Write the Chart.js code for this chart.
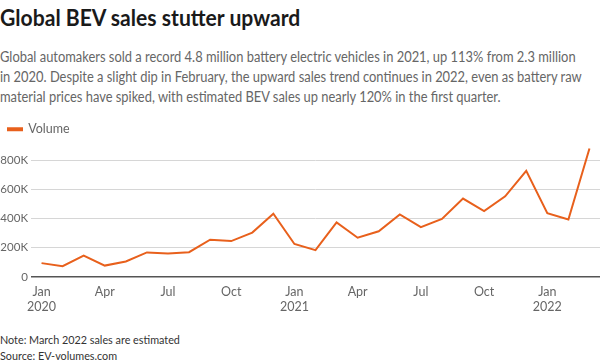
<!DOCTYPE html>
<html>
<head>
<meta charset="utf-8">
<script src="https://cdn.jsdelivr.net/npm/chart.js@4"></script>
<style>
  body { margin: 0; width: 600px; height: 364px; background: #fff; font-family: Lato, sans-serif; position: relative; overflow: hidden; }
  .title { position: absolute; left: 0; top: 4px; font-size: 22px; font-weight: bold; color: #1a1a1a; white-space: nowrap; transform: scaleX(0.96); transform-origin: left top; }
  .sub { position: absolute; left: 0; top: 47px; font-size: 14.5px; line-height: 20px; color: #666; white-space: nowrap; transform: scaleX(0.89); transform-origin: left top; }
  .note { position: absolute; left: 0; top: 332px; font-size: 12px; line-height: 16px; color: #333; white-space: nowrap; transform: scaleX(0.9); transform-origin: left top; }
  #wrap { position: absolute; left: 0; top: 115px; width: 600px; height: 206px; }
</style>
</head>
<body>
<div class="title">Global BEV sales stutter upward</div>
<div class="sub">Global automakers sold a record 4.8 million battery electric vehicles in 2021, up 113% from 2.3 million<br>in 2020. Despite a slight dip in February, the upward sales trend continues in 2022, even as battery raw<br>material prices have spiked, with estimated BEV sales up nearly 120% in the first quarter.</div>
<div id="wrap"><canvas id="grafico"></canvas></div>
<div class="note">Note: March 2022 sales are estimated<br>Source: EV-volumes.com</div>
<script>
const months = ['Jan 2020','Feb 2020','Mar 2020','Apr 2020','May 2020','Jun 2020','Jul 2020','Aug 2020','Sep 2020','Oct 2020','Nov 2020','Dec 2020',
  'Jan 2021','Feb 2021','Mar 2021','Apr 2021','May 2021','Jun 2021','Jul 2021','Aug 2021','Sep 2021','Oct 2021','Nov 2021','Dec 2021',
  'Jan 2022','Feb 2022','Mar 2022'];
const volume = [95000, 74000, 147000, 78000, 106000, 168000, 161000, 170000, 255000, 246000, 304000, 433000,
  226000, 184000, 373000, 269000, 313000, 428000, 341000, 398000, 537000, 451000, 552000, 727000,
  437000, 394000, 879000];
const yTicks = [0, 200000, 400000, 600000, 800000];

const orange = '#e8601c';

const ctx = document.getElementById('grafico').getContext('2d');
const grafico = new Chart(ctx, {
  type: 'line',
  data: {
    labels: months,
    datasets: [{
      label: 'Volume',
      data: volume,
      borderColor: orange,
      backgroundColor: orange,
      borderWidth: 2,
      pointRadius: 0,
      tension: 0,
      fill: false
    }]
  },
  options: {
    responsive: true,
    maintainAspectRatio: false,
    animation: false,
    layout: { padding: { left: 0, right: 0, top: 0, bottom: 0 } },
    plugins: {
      legend: {
        display: true,
        position: 'top',
        align: 'start',
        labels: {
          boxWidth: 14,
          boxHeight: 2,
          color: '#666',
          padding: 8,
          font: { family: 'Lato', size: 12.5 }
        }
      },
      tooltip: { enabled: false }
    },
    scales: {
      x: {
        offset: true,
        grid: { display: false, drawTicks: false },
        border: { display: false },
        ticks: {
          autoSkip: false,
          maxRotation: 0,
          padding: 7,
          color: '#666',
          font: { family: 'Lato', size: 12.5 },
          callback: function (v, i) {
            const [m, y] = months[i].split(' ');
            if (m === 'Jan') return [m, y];
            if (m === 'Apr' || m === 'Jul' || m === 'Oct') return m;
            return null;
          }
        }
      },
      y: {
        min: 0,
        max: 900000,
        afterBuildTicks: function (axis) {
          axis.ticks = yTicks.map(v => ({ value: v }));
        },
        afterFit: function (axis) {
          axis.width = 31;
        },
        grid: {
          drawTicks: false,
          color: c => c.tick && c.tick.value === 0 ? '#555' : '#d6d6d6',
          lineWidth: c => c.tick && c.tick.value === 0 ? 1.5 : 1
        },
        border: { display: false },
        ticks: {
          padding: 3,
          color: '#666',
          font: { family: 'Lato', size: 11.5 },
          callback: v => v === 0 ? '0' : (v / 1000) + 'K'
        }
      }
    }
  }
});
</script>
</body>
</html>
